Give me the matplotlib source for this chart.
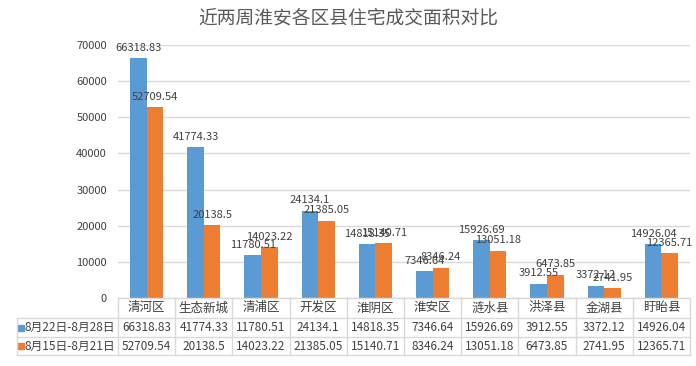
import matplotlib
matplotlib.use('Agg')
import matplotlib.pyplot as plt
import numpy as np

plt.rcParams['font.family'] = ['Noto Sans CJK SC', 'DejaVu Sans']

# data
categories = ['清河区', '生态新城', '清浦区', '开发区', '淮阴区', '淮安区', '涟水县', '洪泽县', '金湖县', '盱眙县']
series_names = ['8月22日-8月28日', '8月15日-8月21日']
week1 = [66318.83, 41774.33, 11780.51, 24134.1, 14818.35, 7346.64, 15926.69, 3912.55, 3372.12, 14926.04]
week2 = [52709.54, 20138.5, 14023.22, 21385.05, 15140.71, 8346.24, 13051.18, 6473.85, 2741.95, 12365.71]
yticks = [0, 10000, 20000, 30000, 40000, 50000, 60000, 70000]

blue = '#5B9BD5'
orange = '#ED7D31'
txt = '#404040'
gridc = '#D9D9D9'

fig = plt.figure(figsize=(6.96, 3.66), dpi=100)
ax = fig.add_axes([118/696, 68/366, 572/696, 253/366])

x = np.arange(len(categories))
w = 0.29
b1 = ax.bar(x - w/2, week1, w, color=blue)
b2 = ax.bar(x + w/2, week2, w, color=orange)

def fmt(v):
    s = ('%.2f' % v).rstrip('0').rstrip('.')
    return s

for bars, vals in ((b1, week1), (b2, week2)):
    for r, v in zip(bars, vals):
        ax.text(r.get_x() + r.get_width()/2, v + 1500, fmt(v), ha='center', va='bottom',
                fontsize=8, color=txt)

ax.set_xlim(-0.5, len(categories) - 0.5)
ax.set_ylim(0, 70000)
ax.set_yticks(yticks)
ax.set_yticklabels([str(t) for t in yticks], fontsize=8, color=txt)
ax.set_xticks([])
ax.tick_params(axis='y', length=0, pad=8)
for s in ax.spines.values():
    s.set_visible(False)
ax.yaxis.grid(True, color=gridc, linewidth=1)
ax.set_axisbelow(True)

# data table below the axes
n = len(categories)
axh = 253.0
rows = [0, -20/axh, -39/axh, -57/axh]
left = -0.5 - (101/572) * n
ax_tr = ax.get_xaxis_transform()
lk = dict(color=gridc, linewidth=1, clip_on=False, transform=ax_tr)
# horizontal lines
ax.plot([-0.5, n - 0.5], [rows[0], rows[0]], **lk)
for yy in rows[1:]:
    ax.plot([left, n - 0.5], [yy, yy], **lk)
# vertical lines
for i in range(n + 1):
    ax.plot([i - 0.5, i - 0.5], [rows[0], rows[3]], **lk)
ax.plot([left, left], [rows[1], rows[3]], **lk)

fs = 8.5
for i, c in enumerate(categories):
    ax.text(i, (rows[0] + rows[1]) / 2, c, ha='center', va='center', fontsize=9, color=txt,
            transform=ax_tr, clip_on=False)
    ax.text(i, (rows[1] + rows[2]) / 2, fmt(week1[i]), ha='center', va='center', fontsize=fs,
            color=txt, transform=ax_tr, clip_on=False)
    ax.text(i, (rows[2] + rows[3]) / 2, fmt(week2[i]), ha='center', va='center', fontsize=fs,
            color=txt, transform=ax_tr, clip_on=False)

for k, (name, col) in enumerate(zip(series_names, [blue, orange])):
    yc = (rows[k + 1] + rows[k + 2]) / 2
    ax.scatter([left + 0.07], [yc], marker='s', s=22, color=col, transform=ax_tr, clip_on=False)
    ax.text(left + 0.13, yc, name, ha='left', va='center', fontsize=fs, color=txt,
            transform=ax_tr, clip_on=False)

fig.text(0.5, 0.952, '近两周淮安各区县住宅成交面积对比', ha='center', va='center',
         fontsize=13.5, color='#595959')

fig.savefig('out.png', dpi=100)
